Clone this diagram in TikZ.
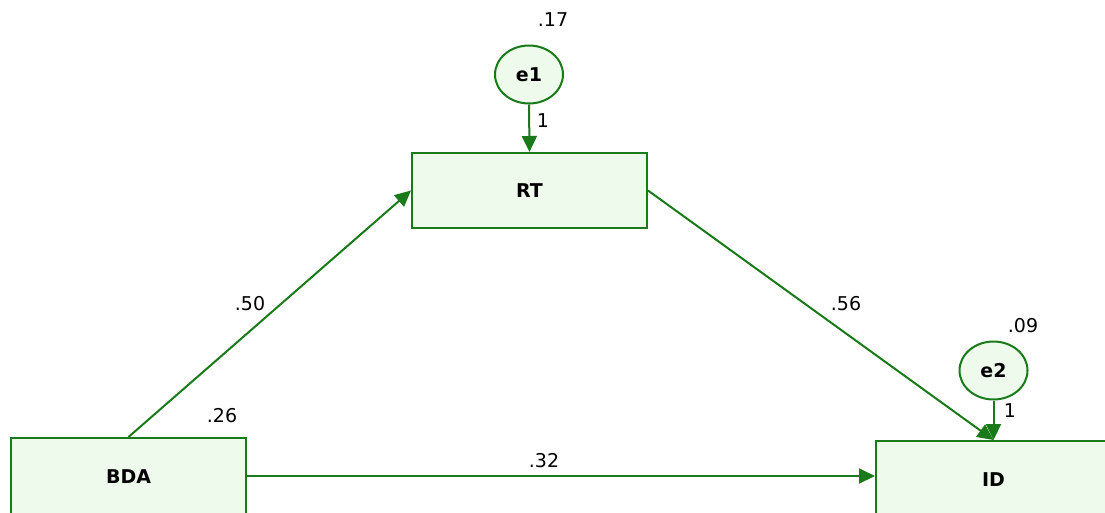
\documentclass[tikz,border=0pt]{standalone}
\usepackage{fontspec}
\setmainfont{DejaVu Sans}
\usetikzlibrary{shapes.geometric,arrows.meta}
\definecolor{pathgreen}{RGB}{24,122,24}
\definecolor{boxfill}{RGB}{238,251,236}
\tikzset{
  every picture/.style={x=1pt,y=-1pt},
  varbox/.style={draw=pathgreen,fill=boxfill,line width=2pt,rectangle,
    minimum width=235pt,minimum height=75pt,inner sep=0pt,
    font=\fontsize{19}{21}\selectfont\bfseries},
  errnode/.style={draw=pathgreen,fill=boxfill,line width=2pt,ellipse,
    minimum width=68pt,minimum height=58pt,inner sep=0pt,
    font=\fontsize{19}{21}\selectfont\bfseries},
  coef/.style={inner sep=0pt,font=\fontsize{19}{21}\selectfont},
  path/.style={draw=pathgreen,line width=2pt,
    -{Triangle[length=16pt,width=15pt]}},
}
\begin{document}
\begin{tikzpicture}
  \useasboundingbox (0,0) rectangle (1105,512);
  % observed variables
  \node[varbox] (RT) at (529.5,190.5) {RT};
  \node[varbox,minimum height=78pt] (BDA) at (128.5,477) {BDA};
  \node[varbox,minimum height=78pt] (ID) at (993.5,480) {ID};
  % error terms
  \node[errnode] (e1) at (529,74.5) {e1};
  \node[errnode] (e2) at (993.5,370.5) {e2};
  % regression paths
  \draw[path] (e1.south) -- (RT.north);
  \draw[path] (e2.south) -- (ID.north);
  \draw[path] (BDA.north) -- (RT.west);
  \draw[path] (RT.east) -- (ID.north);
  \draw[path] ([yshift=1pt]BDA.east) -- ([yshift=1pt]BDA.east -| ID.west);
  % estimates
  \node[coef] (v17) at (553,20) {.17};
  \node[coef] (w1)  at (543,121) {1};
  \node[coef] (v09) at (1023,326) {.09};
  \node[coef] (w2)  at (1010,411) {1};
  \node[coef] (v26) at (222,416) {.26};
  \node[coef] (p50) at (250,304) {.50};
  \node[coef] (p56) at (846,304) {.56};
  \node[coef] (p32) at (544,461) {.32};
\end{tikzpicture}
\end{document}
